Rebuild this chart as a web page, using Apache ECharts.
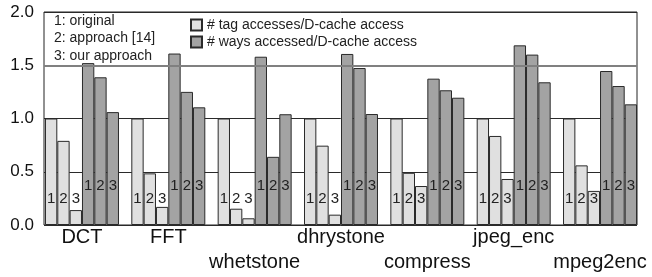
<!DOCTYPE html>
<html>
<head>
<meta charset="utf-8">
<script src="https://cdn.jsdelivr.net/npm/echarts@6/dist/echarts.min.js"></script>
<style>
  html, body { margin: 0; padding: 0; background: #fff; }
  #chart { width: 652px; height: 277px; }
</style>
</head>
<body>
<div id="chart"></div>
<script>
var categories = ['DCT', 'FFT', 'whetstone', 'dhrystone', 'compress', 'jpeg_enc', 'mpeg2enc'];
var tagOriginal = [1.0, 1.0, 1.0, 1.0, 1.0, 1.0, 1.0];
var tagApproach14 = [0.79, 0.485, 0.153, 0.745, 0.49, 0.836, 0.56];
var tagOurs = [0.14, 0.17, 0.063, 0.097, 0.366, 0.432, 0.32];
var waysOriginal = [1.52, 1.61, 1.58, 1.606, 1.374, 1.687, 1.446];
var waysApproach14 = [1.387, 1.25, 0.64, 1.474, 1.265, 1.60, 1.305];
var waysOurs = [1.06, 1.105, 1.04, 1.042, 1.195, 1.34, 1.133];
var yTicks = [0, 0.5, 1.0, 1.5, 2.0];
var notes = ['1: original', '2: approach [14]', '3: our approach'];

var tagName = '# tag accesses/D-cache access';
var waysName = '# ways accessed/D-cache access';
var font = 'Liberation Sans, Arial, sans-serif';

var chart = echarts.init(document.getElementById('chart'));

function barSeries(name, data, num, color, labelDist) {
  return {
    name: name,
    type: 'bar',
    xAxisIndex: 1,
    yAxisIndex: 1,
    z: 3,
    barGap: '0%',
    barCategoryGap: '14.3%',
    data: data,
    itemStyle: { color: color, borderColor: '#2a2a2a', borderWidth: 1 },
    label: {
      show: true,
      position: 'insideBottom',
      distance: labelDist,
      formatter: num,
      color: '#222',
      fontFamily: font,
      fontSize: 15
    }
  };
}

chart.setOption({
  backgroundColor: '#fff',
  animation: false,
  grid: [
    { left: 44, right: 15, top: 12, bottom: 52, show: true, borderColor: '#222', borderWidth: 1, backgroundColor: 'transparent' },
    { left: 38.8, right: 8.8, top: 12, bottom: 52 }
  ],
  legend: {
    left: 185,
    top: 13,
    orient: 'vertical',
    icon: 'rect',
    itemWidth: 11,
    itemHeight: 11,
    itemGap: 3,
    data: [tagName, waysName],
    textStyle: { color: '#222', fontFamily: font, fontSize: 14 }
  },
  graphic: notes.map(function (t, i) {
    return {
      type: 'text',
      left: 54,
      top: 14 + i * 17.5,
      style: { text: t, fill: '#222', font: '14px ' + font }
    };
  }),
  xAxis: [
    { type: 'category', gridIndex: 0, data: categories, show: false },
    {
      type: 'category',
      gridIndex: 1,
      data: categories,
      axisLine: { show: false },
      axisTick: { show: false },
      axisLabel: {
        margin: 0,
        color: '#111',
        fontFamily: font,
        fontSize: 20,
        lineHeight: 25,
        interval: 0,
        formatter: function (v, i) {
          return (i === 2 || i === 4 || i === 6) ? '\n' + v : v;
        }
      }
    }
  ],
  yAxis: [
    {
      type: 'value',
      gridIndex: 0,
      min: yTicks[0],
      max: yTicks[yTicks.length - 1],
      interval: 0.5,
      axisLine: { show: false },
      axisTick: { show: false },
      axisLabel: {
        margin: 10,
        color: '#111',
        fontFamily: font,
        fontSize: 17,
        formatter: function (v) { return v.toFixed(1); }
      },
      splitLine: { show: true, lineStyle: { color: '#2a2a2a', width: 1 } }
    },
    { type: 'value', gridIndex: 1, min: 0, max: 2, show: false }
  ],
  series: [
    {
      type: 'line',
      xAxisIndex: 0,
      yAxisIndex: 0,
      data: [],
      z: 1,
      silent: true,
      markLine: {
        symbol: 'none',
        silent: true,
        label: { show: false },
        lineStyle: { color: '#808080', width: 2, type: 'solid' },
        data: [{ yAxis: 1.5 }]
      }
    },
    barSeries(tagName, tagOriginal, '1', '#e0e0e0', 19),
    barSeries(tagName, tagApproach14, '2', '#e0e0e0', 19),
    barSeries(tagName, tagOurs, '3', '#e0e0e0', 19),
    barSeries(waysName, waysOriginal, '1', '#a3a3a3', 32),
    barSeries(waysName, waysApproach14, '2', '#a3a3a3', 32),
    barSeries(waysName, waysOurs, '3', '#a3a3a3', 32)
  ]
});
</script>
</body>
</html>
